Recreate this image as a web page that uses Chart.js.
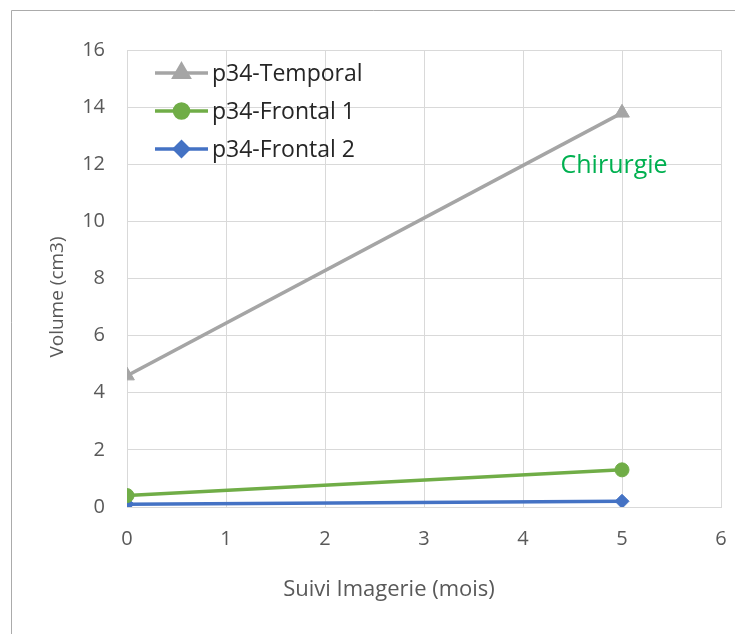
<!DOCTYPE html>
<html>
<head>
<meta charset="utf-8">
<script src="https://cdn.jsdelivr.net/npm/chart.js@4.4.1/dist/chart.umd.min.js"></script>
<style>
  html, body { margin: 0; padding: 0; background: #fff; }
  canvas { display: block; }
</style>
</head>
<body>
<canvas id="myChart" width="735" height="634"></canvas>
<script>
// data
const months = [0, 5];
const temporal = [4.6, 13.8];
const frontal1 = [0.4, 1.3];
const frontal2 = [0.1, 0.2];
const seriesNames = ["p34-Temporal", "p34-Frontal 1", "p34-Frontal 2"];
const xTickValues = [0, 1, 2, 3, 4, 5, 6];
const yTickValues = [0, 2, 4, 6, 8, 10, 12, 14, 16];
const noteText = "Chirurgie";
const xTitle = "Suivi Imagerie (mois)";
const yTitle = "Volume (cm3)";

const colors = {
  gray: "#A5A5A5",
  green: "#70AD47",
  blue: "#4472C4",
  grid: "#D9D9D9",
  text: "#595959",
  note: "#00B050",
  frame: "#ABABAB",
};
const font = "'Open Sans', 'Noto Sans', sans-serif";

function points(ys) {
  return months.map((m, i) => ({ x: m, y: ys[i] }));
}

function series(label, ys, color, style, radius) {
  return {
    label: label,
    data: points(ys),
    borderColor: color,
    backgroundColor: color,
    borderWidth: 3.5,
    pointStyle: style,
    pointRadius: radius,
    pointHoverRadius: radius,
    pointBackgroundColor: color,
    pointBorderColor: color,
    pointBorderWidth: 1,
    tension: 0,
  };
}

// frame, legend inside plot, axis titles and the note
const decorations = {
  id: "decorations",
  beforeDraw(chart) {
    const c = chart.ctx;
    c.save();
    c.fillStyle = "#fff";
    c.fillRect(0, 0, chart.width, chart.height);
    c.strokeStyle = colors.frame;
    c.lineWidth = 1;
    c.beginPath();
    c.moveTo(11.5, chart.height);
    c.lineTo(11.5, 10.5);
    c.lineTo(chart.width, 10.5);
    c.stroke();
    c.restore();
  },
  afterDraw(chart) {
    const c = chart.ctx;
    const area = chart.chartArea;
    const xs = chart.scales.x;
    const ys = chart.scales.y;
    c.save();

    // legend
    chart.data.datasets.forEach((ds, i) => {
      const y = area.top + 23 + i * 38;
      const x0 = area.left + 28;
      c.strokeStyle = ds.borderColor;
      c.lineWidth = 3.5;
      c.beginPath();
      c.moveTo(x0, y);
      c.lineTo(x0 + 53, y);
      c.stroke();
      c.fillStyle = ds.borderColor;
      Chart.helpers.drawPoint(c, { pointStyle: ds.pointStyle, radius: ds.pointRadius, rotation: 0, borderWidth: 1 }, x0 + 26.5, y);
      c.fill();
      c.fillStyle = "#262626";
      c.font = "23px " + font;
      c.textBaseline = "alphabetic";
      c.textAlign = "left";
      c.fillText(ds.label, x0 + 57, y + 8);
    });

    // note
    c.fillStyle = colors.note;
    c.font = "25px " + font;
    c.textAlign = "center";
    c.textBaseline = "alphabetic";
    c.fillText(noteText, xs.getPixelForValue(4.92), ys.getPixelForValue(11.7));

    // axis titles
    c.fillStyle = colors.text;
    c.font = "22px " + font;
    c.fillText(xTitle, area.left + 262, area.bottom + 89);
    c.translate(63, area.top + 247);
    c.rotate(-Math.PI / 2);
    c.font = "19px " + font;
    c.fillText(yTitle, 0, 0);
    c.restore();
  },
};

new Chart(document.getElementById("myChart"), {
  type: "line",
  data: {
    datasets: [
      series(seriesNames[0], temporal, colors.gray, "triangle", 8.5),
      series(seriesNames[1], frontal1, colors.green, "circle", 7),
      series(seriesNames[2], frontal2, colors.blue, "rectRot", 7),
    ],
  },
  options: {
    responsive: false,
    animation: false,
    devicePixelRatio: 1,
    layout: { padding: { top: 50, right: 14, left: 0, bottom: 0 } },
    plugins: {
      legend: { display: false },
      tooltip: { enabled: false },
    },
    scales: {
      x: {
        type: "linear",
        min: xTickValues[0],
        max: xTickValues[xTickValues.length - 1],
        afterBuildTicks: (s) => { s.ticks = xTickValues.map((v) => ({ value: v })); },
        afterFit: (s) => { s.height = 127; s.paddingLeft = 0; s.paddingRight = 0; },
        ticks: { color: colors.text, padding: 20, font: { family: font, size: 20 } },
        grid: { color: colors.grid, drawTicks: false, tickLength: 0 },
        border: { color: colors.grid },
      },
      y: {
        min: yTickValues[0],
        max: yTickValues[yTickValues.length - 1],
        afterBuildTicks: (s) => { s.ticks = yTickValues.map((v) => ({ value: v })); },
        afterFit: (s) => { s.width = 127; },
        ticks: { color: colors.text, padding: 22, font: { family: font, size: 20 } },
        grid: { color: colors.grid, drawTicks: false, tickLength: 0 },
        border: { color: colors.grid },
      },
    },
  },
  plugins: [decorations],
});
</script>
</body>
</html>
